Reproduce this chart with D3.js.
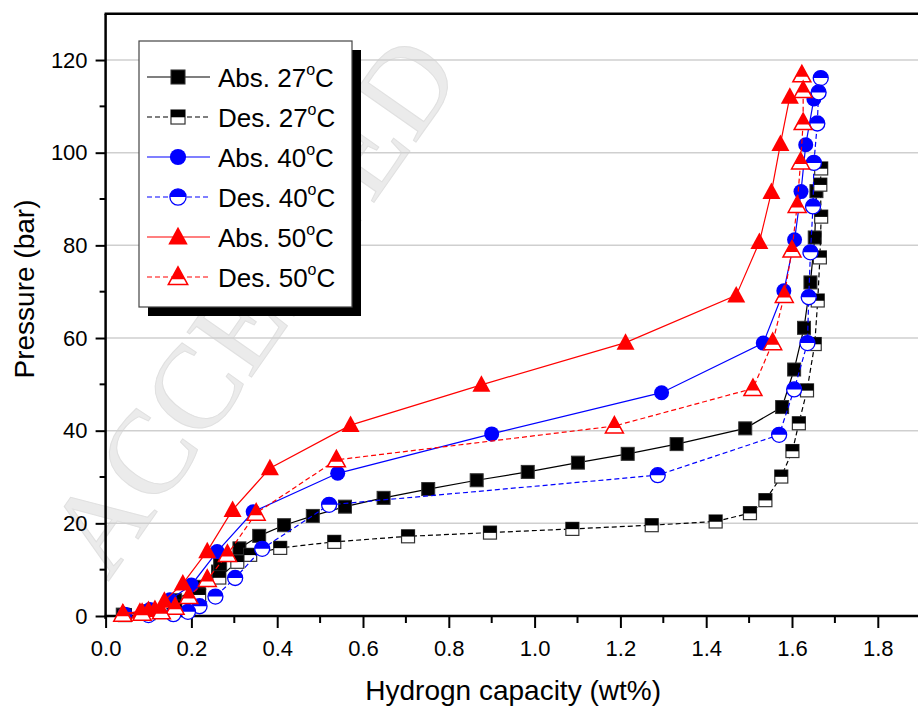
<!DOCTYPE html>
<html>
<head>
<meta charset="utf-8">
<script src="https://cdn.jsdelivr.net/npm/d3@7"></script>
<style>
  html, body { margin: 0; padding: 0; background: #fff; }
  svg { display: block; font-family: "Liberation Sans", Arial, sans-serif; }
</style>
</head>
<body>
<svg id="chart" width="918" height="708"></svg>
<script>
// ---------------- data ----------------
const xTicks = [0.0, 0.2, 0.4, 0.6, 0.8, 1.0, 1.2, 1.4, 1.6, 1.8];
const yTicks = [0, 20, 40, 60, 80, 100, 120];
const seriesNames = ["Abs. 27", "Des. 27", "Abs. 40", "Des. 40", "Abs. 50", "Des. 50"];

const abs27 = [[0.04,0.3],[0.094,1.0],[0.162,3.4],[0.217,6.3],[0.262,9.6],[0.267,11.0],[0.312,14.6],[0.358,17.3],[0.416,19.6],[0.483,21.6],[0.558,23.6],[0.648,25.5],[0.752,27.4],[0.865,29.3],[0.984,31.1],[1.101,33.1],[1.217,35.0],[1.331,37.1],[1.491,40.5],[1.577,45.1],[1.605,53.2],[1.628,62.2],[1.643,72.0],[1.653,81.7],[1.657,91.7]];
const des27 = [[1.668,96.6],[1.666,93.1],[1.668,86.2],[1.665,77.4],[1.66,68.1],[1.653,58.7],[1.635,48.7],[1.616,41.6],[1.601,35.6],[1.575,30.1],[1.538,25.0],[1.502,22.2],[1.422,20.4],[1.273,19.6],[1.088,18.8],[0.896,18.0],[0.705,17.2],[0.533,16.0],[0.407,14.7],[0.337,13.2],[0.307,11.7],[0.265,8.3],[0.218,4.6],[0.162,2.0],[0.1,0.6],[0.045,0.2]];
const abs40 = [[0.045,0.4],[0.103,1.4],[0.15,3.5],[0.2,6.7],[0.26,13.9],[0.344,22.5],[0.541,30.8],[0.9,39.3],[1.296,48.2],[1.533,58.9],[1.581,70.2],[1.606,81.2],[1.621,91.6],[1.632,101.7],[1.651,111.6]];
const des40 = [[1.667,116.1],[1.662,113.0],[1.659,106.3],[1.651,97.8],[1.649,88.4],[1.643,78.5],[1.639,68.8],[1.636,58.9],[1.605,48.9],[1.57,39.1],[1.287,30.4],[0.521,24.0],[0.365,14.5],[0.302,8.2],[0.256,4.2],[0.219,2.1],[0.192,0.9],[0.158,0.4],[0.1,0.2]];
const abs50 = [[0.041,0.6],[0.08,0.9],[0.1,1.3],[0.115,1.5],[0.137,3.3],[0.18,7.0],[0.237,14.0],[0.296,22.9],[0.383,31.9],[0.571,41.2],[0.876,49.9],[1.212,59.0],[1.47,69.2],[1.524,80.7],[1.552,91.5],[1.573,101.9],[1.595,112.1]];
const des50 = [[1.623,116.8],[1.626,113.4],[1.626,106.5],[1.62,98.0],[1.612,88.6],[1.6,79.0],[1.582,69.2],[1.555,59.0],[1.509,49.1],[1.186,41.0],[0.538,33.7],[0.351,22.2],[0.284,13.3],[0.237,7.9],[0.194,4.2],[0.162,1.9],[0.13,0.9],[0.085,0.6],[0.04,0.4]];

const seriesData = [abs27, des27, abs40, des40, abs50, des50];
const seriesColors = ["#000000", "#000000", "#0000ff", "#0000ff", "#ff0000", "#ff0000"];
const seriesShapes = ["square", "square", "circle", "circle", "triangle", "triangle"];
const seriesHalf = [false, true, false, true, false, true];

// ---------------- layout ----------------
const svg = d3.select("#chart");
const x = d3.scaleLinear().domain([0, 1.9]).range([105.6, 920.7]);
const y = d3.scaleLinear().domain([0, 130]).range([616, 13.7]);

// watermark
svg.append("text")
  .attr("transform", "translate(108,582) rotate(-55)")
  .attr("font-family", "Liberation Serif, DejaVu Serif, serif")
  .attr("font-size", 120)
  .attr("fill", "#ebebeb")
  .attr("stroke", "#e0e0e0")
  .attr("stroke-width", 1)
  .text("ACCEPTED");

// grid
svg.append("g").selectAll("line").data(yTicks.filter(d => d > 0)).join("line")
  .attr("x1", x(0)).attr("x2", 918)
  .attr("y1", d => y(d)).attr("y2", d => y(d))
  .attr("stroke", "#cfcfcf").attr("stroke-width", 1.5);

// axes
const xAxis = d3.axisBottom(x).tickValues(xTicks).tickFormat(d3.format(".1f")).tickSize(12).tickPadding(12);
const gx = svg.append("g").attr("transform", `translate(0,${y(0)})`).call(xAxis);
gx.select(".domain").remove();
gx.selectAll("line").attr("stroke-width", 2);
gx.selectAll("text").attr("font-size", 22).attr("font-family", "Liberation Sans, Arial, sans-serif").attr("fill", "#000");
const xMinor = d3.range(1, 19, 2).map(d => d / 10);
svg.append("g").selectAll("line").data(xMinor).join("line")
  .attr("x1", d => x(d)).attr("x2", d => x(d))
  .attr("y1", y(0)).attr("y2", y(0) + 7)
  .attr("stroke", "#000").attr("stroke-width", 2);

const yAxis = d3.axisLeft(y).tickValues(yTicks).tickSize(10).tickPadding(8);
const gy = svg.append("g").attr("transform", `translate(${x(0)},0)`).call(yAxis);
gy.select(".domain").remove();
gy.selectAll("line").attr("stroke-width", 2);
gy.selectAll("text").attr("font-size", 22).attr("font-family", "Liberation Sans, Arial, sans-serif").attr("fill", "#000");
const yMinor = d3.range(10, 130, 20);
svg.append("g").selectAll("line").data(yMinor).join("line")
  .attr("x1", x(0) - 6).attr("x2", x(0))
  .attr("y1", d => y(d)).attr("y2", d => y(d))
  .attr("stroke", "#000").attr("stroke-width", 2);

// frame lines
svg.append("line").attr("x1", x(0)).attr("x2", x(0)).attr("y1", y(130)).attr("y2", y(0) + 3)
  .attr("stroke", "#000").attr("stroke-width", 2.5);
svg.append("line").attr("x1", x(0) - 1).attr("x2", 918).attr("y1", y(0)).attr("y2", y(0))
  .attr("stroke", "#000").attr("stroke-width", 2.5);
svg.append("line").attr("x1", x(0) - 1).attr("x2", 918).attr("y1", y(130)).attr("y2", y(130))
  .attr("stroke", "#000").attr("stroke-width", 2.5);

// axis titles
svg.append("text").attr("x", x(0.95)).attr("y", 700).attr("text-anchor", "middle")
  .attr("font-size", 28).text("Hydrogn capacity (wt%)");
svg.append("text").attr("transform", "translate(34,289) rotate(-90)").attr("text-anchor", "middle")
  .attr("font-size", 28).text("Pressure (bar)");

// markers
function drawMarker(g, shape, color, half, scale) {
  const k = scale || 1;
  if (shape === "square") {
    const s = 13 * k;
    if (half) {
      g.append("rect").attr("x", -s/2).attr("y", -s/2).attr("width", s).attr("height", s)
        .attr("fill", "#fff").attr("stroke", "#333").attr("stroke-width", 1.2);
      g.append("rect").attr("x", -s/2).attr("y", -s/2).attr("width", s).attr("height", s * 0.52)
        .attr("fill", color);
    } else {
      g.append("rect").attr("x", -s/2).attr("y", -s/2).attr("width", s).attr("height", s)
        .attr("fill", color).attr("stroke", "#333").attr("stroke-width", 1);
    }
  } else if (shape === "circle") {
    const r = 7.5 * k;
    if (half) {
      g.append("circle").attr("r", r).attr("fill", "#fff").attr("stroke", color).attr("stroke-width", 1.3);
      g.append("path").attr("d", `M${-r},0 A${r},${r} 0 0 1 ${r},0 Z`).attr("fill", color);
    } else {
      g.append("circle").attr("r", r).attr("fill", color);
    }
  } else {
    const w = 9 * k, top = -9.5 * k, bot = 7 * k;
    const tri = `M0,${top} L${w},${bot} L${-w},${bot} Z`;
    if (half) {
      g.append("path").attr("d", tri).attr("fill", "#fff").attr("stroke", color).attr("stroke-width", 1.5);
      const my = 2 * k;
      const hw = w * (my - top) / (bot - top);
      g.append("path").attr("d", `M0,${top} L${hw},${my} L${-hw},${my} Z`).attr("fill", color);
    } else {
      g.append("path").attr("d", tri).attr("fill", color);
    }
  }
}

const line = d3.line().x(d => x(d[0])).y(d => y(d[1]));
seriesData.forEach((data, i) => {
  const g = svg.append("g");
  g.append("path").attr("d", line(data)).attr("fill", "none")
    .attr("stroke", seriesColors[i]).attr("stroke-width", 1.2)
    .attr("stroke-dasharray", seriesHalf[i] ? "5,3" : null);
  data.forEach(d => {
    const m = g.append("g").attr("transform", `translate(${x(d[0])},${y(d[1])})`);
    drawMarker(m, seriesShapes[i], seriesColors[i], seriesHalf[i], 1);
  });
});

// legend
const lg = svg.append("g");
lg.append("rect").attr("x", 148).attr("y", 50).attr("width", 213).attr("height", 266).attr("fill", "#000");
lg.append("rect").attr("x", 139).attr("y", 41).attr("width", 213).attr("height", 266)
  .attr("fill", "#fff").attr("stroke", "#444").attr("stroke-width", 1.2);
seriesNames.forEach((name, i) => {
  const cy = 77 + i * 40;
  lg.append("line").attr("x1", 147).attr("x2", 210).attr("y1", cy).attr("y2", cy)
    .attr("stroke", seriesColors[i]).attr("stroke-width", 1.2)
    .attr("stroke-dasharray", seriesHalf[i] ? "5,3" : null);
  const m = lg.append("g").attr("transform", `translate(178,${cy})`);
  drawMarker(m, seriesShapes[i], seriesColors[i], seriesHalf[i], 1.08);
  const t = lg.append("text").attr("x", 218).attr("y", cy + 10).attr("font-size", 26);
  t.append("tspan").text(name);
  t.append("tspan").attr("font-size", 16).attr("dy", -12).text("o");
  t.append("tspan").attr("dy", 12).text("C");
});
</script>
</body>
</html>
